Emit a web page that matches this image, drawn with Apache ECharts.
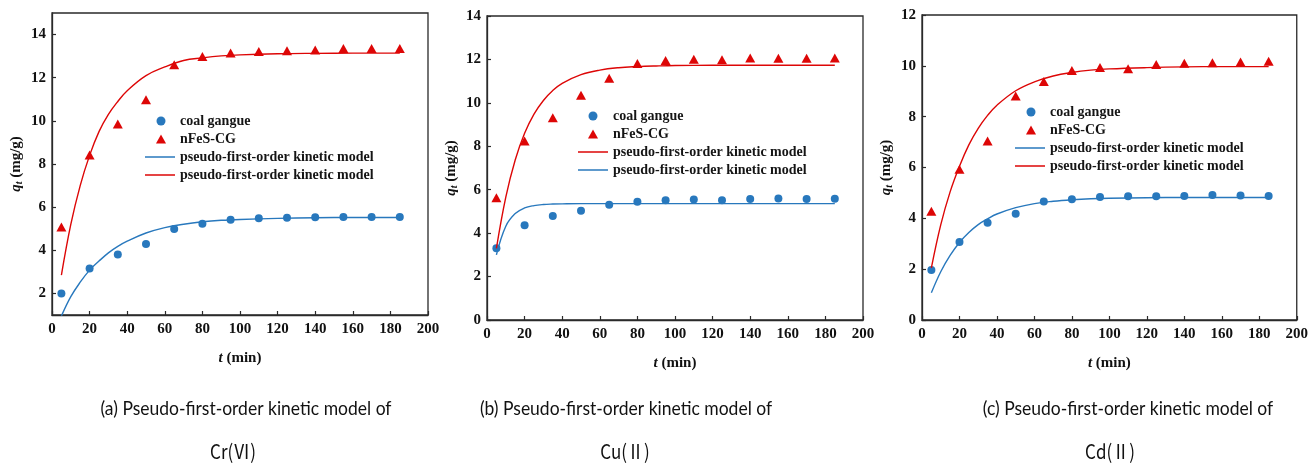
<!DOCTYPE html>
<html>
<head>
<meta charset="utf-8">
<script src="https://cdn.jsdelivr.net/npm/echarts@6/dist/echarts.min.js"></script>
<style>
  html, body { margin: 0; padding: 0; background: #ffffff; }
  #chart { width: 1311px; height: 464px; }
</style>
</head>
<body>
<div id="chart"></div>
<script>
// Sampling times (min) of the adsorption experiments
const timeMin = [5, 20, 35, 50, 65, 80, 95, 110, 125, 140, 155, 170, 185];
// Times at which the fitted pseudo-first-order curves are sampled
const fitTime = [5, 10, 15, 20, 25, 30, 35, 40, 50, 60, 70, 80, 90, 100, 120, 140, 160, 185];

// (a) Cr(VI)
const crCoalGangue = [2.0, 3.15, 3.8, 4.29, 4.99, 5.23, 5.42, 5.49, 5.51, 5.53, 5.54, 5.54, 5.54];
const crNFeS = [5.08, 8.42, 9.86, 10.98, 12.6, 12.98, 13.14, 13.21, 13.25, 13.29, 13.35, 13.35, 13.35];
const crFitCG = [0.95, 1.85, 2.52, 3.08, 3.5, 3.88, 4.18, 4.42, 4.8, 5.05, 5.21, 5.32, 5.39, 5.43, 5.48, 5.51, 5.52, 5.52];
const crFitNFeS = [2.85, 5.2, 7.0, 8.4, 9.5, 10.3, 10.9, 11.4, 12.1, 12.5, 12.8, 12.92, 13.01, 13.06, 13.11, 13.13, 13.14, 13.14];

// (b) Cu(II)
const cuCoalGangue = [3.3, 4.36, 4.79, 5.03, 5.31, 5.44, 5.52, 5.55, 5.51, 5.57, 5.6, 5.57, 5.58];
const cuNFeS = [5.63, 8.24, 9.31, 10.35, 11.13, 11.81, 11.95, 12.01, 11.99, 12.07, 12.06, 12.06, 12.07];
const cuFitCG = [3.0, 4.32, 4.9, 5.16, 5.27, 5.32, 5.34, 5.35, 5.36, 5.36, 5.36, 5.36, 5.36, 5.36, 5.36, 5.36, 5.36, 5.36];
const cuFitNFeS = [3.3, 5.66, 7.37, 8.6, 9.48, 10.11, 10.57, 10.9, 11.3, 11.51, 11.62, 11.67, 11.7, 11.72, 11.73, 11.73, 11.73, 11.73];

// (c) Cd(II)
const cdCoalGangue = [1.97, 3.07, 3.83, 4.18, 4.66, 4.75, 4.84, 4.87, 4.87, 4.88, 4.92, 4.9, 4.88];
const cdNFeS = [4.28, 5.93, 7.04, 8.81, 9.38, 9.82, 9.93, 9.89, 10.05, 10.1, 10.12, 10.15, 10.18];
const cdFitCG = [1.07, 1.9, 2.54, 3.05, 3.44, 3.75, 3.98, 4.17, 4.42, 4.58, 4.67, 4.73, 4.77, 4.79, 4.81, 4.82, 4.82, 4.82];
const cdFitNFeS = [2.05, 3.74, 5.04, 6.05, 6.89, 7.54, 8.05, 8.45, 9.02, 9.37, 9.6, 9.74, 9.83, 9.88, 9.93, 9.96, 9.97, 9.97];

// Tick labels
const xTicks = [0, 20, 40, 60, 80, 100, 120, 140, 160, 180, 200];
const crTicks = [2, 4, 6, 8, 10, 12, 14];
const cuTicks = [0, 2, 4, 6, 8, 10, 12, 14];
const cdTicks = [0, 2, 4, 6, 8, 10, 12];

// Text
const legendCG = 'coal gangue';
const legendNFeS = 'nFeS-CG';
const legendFit = 'pseudo-first-order kinetic model';
const captionLine1 = [
  '(a) Pseudo-first-order kinetic model of',
  '(b) Pseudo-first-order kinetic model of',
  '(c) Pseudo-first-order kinetic model of'
];
const captionLine2 = ['Cr(Ⅵ)', 'Cu(Ⅱ)', 'Cd(Ⅱ)'];

const BLUE = '#2878bd';
const RED = '#dd0606';
const AXIS = '#2a2a2a';
const SERIF = '"Liberation Serif", "Times New Roman", serif';

const pair = (xs, ys) => xs.map((x, i) => [x, ys[i]]);

// Layout of the three panels
const panels = [
  { key: 'a', grid: { left: 52, top: 13, width: 376, height: 302 }, yMin: 1, yMax: 15, ticks: crTicks,
    cg: crCoalGangue, nf: crNFeS, fitCG: crFitCG, fitNF: crFitNFeS, redFirst: false,
    markerX: 161, lineX: 145, textX: 180, rowY: 121, cap1X: 246, cap2X: 233 },
  { key: 'b', grid: { left: 487, top: 16, width: 376, height: 304 }, yMin: 0, yMax: 14, ticks: cuTicks,
    cg: cuCoalGangue, nf: cuNFeS, fitCG: cuFitCG, fitNF: cuFitNFeS, redFirst: true,
    markerX: 593, lineX: 578, textX: 613, rowY: 116, cap1X: 626, cap2X: 625 },
  { key: 'c', grid: { left: 922, top: 15, width: 377, height: 305 }, yMin: 0, yMax: 12, ticks: cdTicks,
    cg: cdCoalGangue, nf: cdNFeS, fitCG: cdFitCG, fitNF: cdFitNFeS, redFirst: false,
    markerX: 1031, lineX: 1015, textX: 1050, rowY: 112, cap1X: 1128, cap2X: 1110 }
];

const ROW = 18;          // legend row pitch
const TEXT_H = 14;       // legend text row height
const labelOf = {};
const grids = [], xAxes = [], yAxes = [], series = [], legends = [], graphics = [];

const legendText = (padLeft) => ({
  fontFamily: SERIF, fontWeight: 'bold', fontSize: 14, color: '#151515', padding: [0, 0, 0, padLeft]
});

panels.forEach((p, i) => {
  grids.push(Object.assign({ show: true, borderColor: AXIS, borderWidth: 1.3, backgroundColor: 'transparent' }, p.grid));

  xAxes.push({
    gridIndex: i, type: 'value', min: 0, max: 200, interval: 20,
    name: '{it|t} (min)', nameLocation: 'middle', nameGap: 36,
    nameTextStyle: { fontFamily: SERIF, fontWeight: 'bold', fontSize: 15, color: '#111',
      rich: { it: { fontFamily: SERIF, fontWeight: 'bold', fontStyle: 'italic', fontSize: 15, color: '#111' } } },
    axisLine: { show: true, lineStyle: { color: AXIS, width: 1.3 } },
    axisTick: { show: true, inside: true, length: 4, lineStyle: { color: AXIS, width: 1.2 } },
    axisLabel: { margin: 7, fontFamily: SERIF, fontWeight: 'bold', fontSize: 15, color: '#111',
      customValues: xTicks },
    splitLine: { show: false }
  });

  yAxes.push({
    gridIndex: i, type: 'value', min: p.yMin, max: p.yMax,
    name: '{it|q}{sub|t} (mg/g)', nameLocation: 'middle', nameGap: 28, nameRotate: 90,
    nameTextStyle: { fontFamily: SERIF, fontWeight: 'bold', fontSize: 15, color: '#111',
      rich: {
        it: { fontFamily: SERIF, fontWeight: 'bold', fontStyle: 'italic', fontSize: 15, color: '#111' },
        sub: { fontFamily: SERIF, fontWeight: 'bold', fontStyle: 'italic', fontSize: 10, color: '#111', padding: [6, 0, 0, 0] }
      } },
    axisLine: { show: true, lineStyle: { color: AXIS, width: 1.3 } },
    axisTick: { show: true, inside: true, length: 4, lineStyle: { color: AXIS, width: 1.2 }, customValues: p.ticks },
    axisLabel: { margin: 6, fontFamily: SERIF, fontWeight: 'bold', fontSize: 15, color: '#111', customValues: p.ticks },
    splitLine: { show: false }
  });

  const nCG = p.key + '-cg', nNF = p.key + '-nf', nFitCG = p.key + '-fit-cg', nFitNF = p.key + '-fit-nf';
  labelOf[nCG] = legendCG;
  labelOf[nNF] = legendNFeS;
  labelOf[nFitCG] = legendFit;
  labelOf[nFitNF] = legendFit;

  series.push(
    { name: nFitCG, type: 'line', xAxisIndex: i, yAxisIndex: i, data: pair(fitTime, p.fitCG),
      smooth: 0.4, showSymbol: false, symbol: 'none', color: BLUE,
      itemStyle: { color: BLUE }, lineStyle: { color: BLUE, width: 1.4 }, z: 3 },
    { name: nFitNF, type: 'line', xAxisIndex: i, yAxisIndex: i, data: pair(fitTime, p.fitNF),
      smooth: 0.4, showSymbol: false, symbol: 'none', color: RED,
      itemStyle: { color: RED }, lineStyle: { color: RED, width: 1.4 }, z: 3 },
    { name: nCG, type: 'scatter', xAxisIndex: i, yAxisIndex: i, data: pair(timeMin, p.cg),
      symbol: 'circle', symbolSize: 8, itemStyle: { color: BLUE, opacity: 1 }, z: 2 },
    { name: nNF, type: 'scatter', xAxisIndex: i, yAxisIndex: i, data: pair(timeMin, p.nf),
      symbol: 'triangle', symbolSize: [10, 9], itemStyle: { color: RED, opacity: 1 }, z: 2 }
  );

  // Marker entries
  legends.push({
    orient: 'vertical', left: p.markerX - 5, top: p.rowY - TEXT_H / 2, padding: 0,
    itemWidth: 10, itemHeight: 9, itemGap: ROW - TEXT_H, selectedMode: false,
    data: [{ name: nCG, icon: 'circle' }, { name: nNF, icon: 'triangle' }],
    formatter: (name) => labelOf[name],
    textStyle: legendText(p.textX - (p.markerX + 5) - 5)
  });
  // Fitted-curve entries
  const fitOrder = p.redFirst ? [nFitNF, nFitCG] : [nFitCG, nFitNF];
  legends.push({
    orient: 'vertical', left: p.lineX, top: p.rowY + 2 * ROW - TEXT_H / 2, padding: 0,
    itemWidth: 30, itemHeight: 1.5, itemGap: ROW - TEXT_H, selectedMode: false,
    data: fitOrder.map((n) => ({ name: n, icon: 'rect' })),
    formatter: (name) => labelOf[name],
    textStyle: legendText(Math.max(0, p.textX - (p.lineX + 30) - 5))
  });

  // Panel captions (a condensed sans face)
  graphics.push(
    { type: 'text', x: p.cap1X, y: 409, scaleX: 0.875,
      style: { text: captionLine1[i], x: 0, y: 0, font: '20px Lato, sans-serif', fill: '#111',
        textAlign: 'center', textVerticalAlign: 'middle', align: 'center', verticalAlign: 'middle' } },
    { type: 'text', x: p.cap2X, y: 451, scaleX: 0.85,
      style: { text: captionLine2[i], x: 0, y: 0, font: '20px "Noto Sans CJK SC", Lato, sans-serif', fill: '#111',
        textAlign: 'center', textVerticalAlign: 'middle', align: 'center', verticalAlign: 'middle' } }
  );
});

const chart = echarts.init(document.getElementById('chart'), null, { renderer: 'canvas' });
chart.setOption({
  animation: false,
  backgroundColor: '#ffffff',
  grid: grids,
  xAxis: xAxes,
  yAxis: yAxes,
  legend: legends,
  series: series,
  graphic: { elements: graphics }
});
</script>
</body>
</html>
